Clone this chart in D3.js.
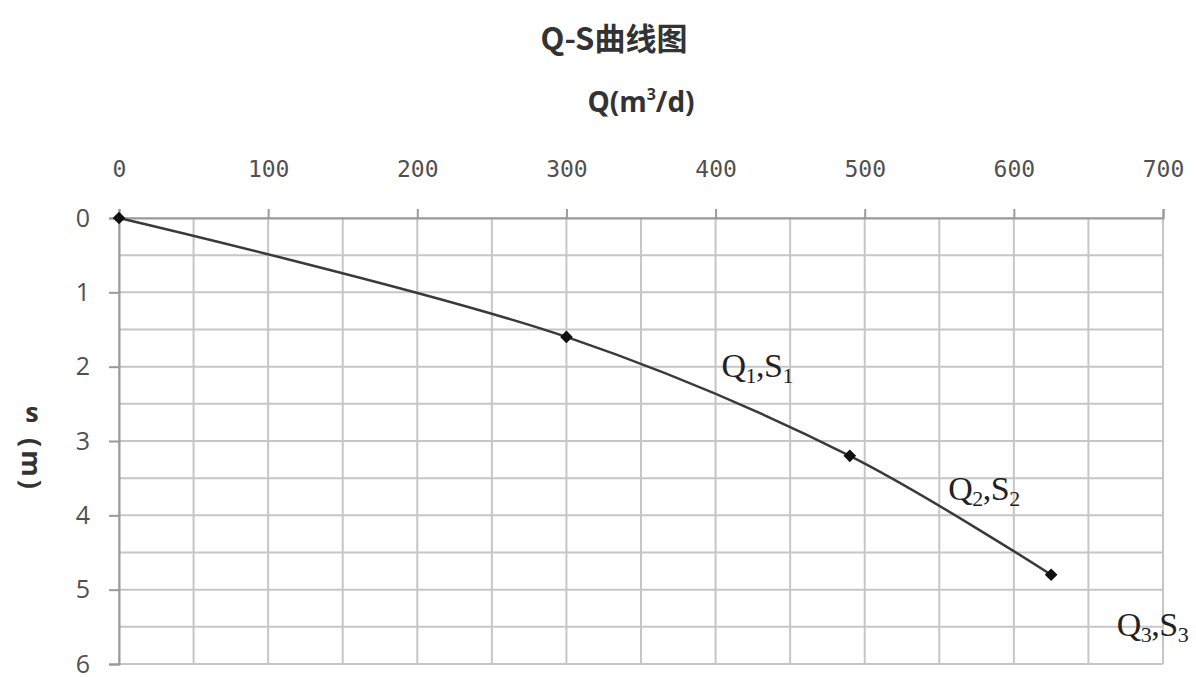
<!DOCTYPE html>
<html>
<head>
<meta charset="utf-8">
<script src="https://cdn.jsdelivr.net/npm/d3@7"></script>
<style>
  html, body { margin: 0; padding: 0; background: #fff; }
  svg { display: block; }
</style>
</head>
<body>
<svg id="chart" width="1196" height="677"></svg>
<script>
// Pumping test: discharge Q (m³/d) vs drawdown s (m)
const discharge = [0, 300, 490, 625];
const drawdown  = [0, 1.6, 3.2, 4.8];
const pointLabels = [
  { q: "1", s: "1" },
  { q: "2", s: "2" },
  { q: "3", s: "3" }
];
// label anchors in data units (Q, s)
const labelQ = [404, 556, 669];
const labelS = [2.14, 3.8, 5.62];
const xTicks = [0, 100, 200, 300, 400, 500, 600, 700];
const yTicks = [0, 1, 2, 3, 4, 5, 6];
const xGrid = d3.range(0, 701, 50);
const yGrid = d3.range(0, 6.01, 0.5);

const svg = d3.select("#chart");
const m = { left: 119, right: 1163, top: 218, bottom: 664 };

const x = d3.scaleLinear().domain([0, 700]).range([m.left, m.right]);
const y = d3.scaleLinear().domain([0, 6]).range([m.top, m.bottom]);

// Gridlines
const grid = svg.append("g").attr("stroke", "#c6c6c6").attr("stroke-width", 2);
grid.selectAll("line.v").data(xGrid).join("line")
  .attr("x1", d => x(d)).attr("x2", d => x(d))
  .attr("y1", m.top).attr("y2", m.bottom);
grid.selectAll("line.h").data(yGrid).join("line")
  .attr("x1", m.left).attr("x2", m.right)
  .attr("y1", d => y(d)).attr("y2", d => y(d));

// Top axis (Q)
const xAxis = svg.append("g")
  .attr("transform", `translate(0,${m.top})`)
  .call(d3.axisTop(x).tickValues(xTicks).tickSize(9).tickPadding(32).tickFormat(d3.format("d")));
xAxis.select(".domain").attr("stroke", "#9a9a9a").attr("stroke-width", 2);
xAxis.selectAll(".tick line").attr("stroke", "#9a9a9a").attr("stroke-width", 2);
xAxis.selectAll(".tick text")
  .attr("font-family", "'DejaVu Sans Mono', monospace")
  .attr("font-size", 23).attr("fill", "#505050");

// Left axis (s)
const yAxis = svg.append("g")
  .attr("transform", `translate(${m.left},0)`)
  .call(d3.axisLeft(y).tickValues(yTicks).tickSize(10).tickPadding(19).tickFormat(d3.format("d")));
yAxis.select(".domain").attr("stroke", "#9a9a9a").attr("stroke-width", 2);
yAxis.selectAll(".tick line").attr("stroke", "#9a9a9a").attr("stroke-width", 2);
yAxis.selectAll(".tick text")
  .attr("font-family", "'Open Sans', Lato, sans-serif")
  .attr("font-size", 25).attr("fill", "#505050");

// Smoothed Q-s curve
const pts = discharge.map((q, i) => [q, drawdown[i]]);
const line = d3.line()
  .x(d => x(d[0])).y(d => y(d[1]))
  .curve(d3.curveCatmullRom.alpha(0.5));
svg.append("path").datum(pts)
  .attr("d", line)
  .attr("fill", "none")
  .attr("stroke", "#3a3a3a")
  .attr("stroke-width", 2.5);

// Diamond markers
svg.selectAll("path.mk").data(pts).join("path")
  .attr("class", "mk")
  .attr("d", d3.symbol().type(d3.symbolSquare).size(80))
  .attr("transform", d => `translate(${x(d[0])},${y(d[1])}) rotate(45)`)
  .attr("fill", "#111");

// Point annotations Qn,Sn
pointLabels.forEach((lb, i) => {
  const t = svg.append("text")
    .attr("x", x(labelQ[i]))
    .attr("y", y(labelS[i]))
    .attr("font-family", "'Liberation Serif', 'DejaVu Serif', serif")
    .attr("font-size", 34)
    .attr("letter-spacing", -0.5)
    .attr("fill", "#222");
  t.append("tspan").text("Q");
  t.append("tspan").attr("font-size", 22).attr("dy", 6).text(lb.q);
  t.append("tspan").attr("dy", -6).text(",S");
  t.append("tspan").attr("font-size", 22).attr("dy", 6).text(lb.s);
});

// Title and axis titles
svg.append("text")
  .attr("x", 614).attr("y", 50)
  .attr("text-anchor", "middle")
  .attr("font-family", "'Noto Sans CJK SC', sans-serif")
  .attr("font-weight", "bold").attr("font-size", 31).attr("fill", "#333")
  .text("Q-S曲线图");

const qt = svg.append("text")
  .attr("x", 641).attr("y", 112)
  .attr("text-anchor", "middle")
  .attr("font-family", "'Open Sans', 'Noto Sans', sans-serif")
  .attr("font-weight", "bold").attr("font-size", 28).attr("fill", "#333");
qt.append("tspan").text("Q(m");
qt.append("tspan").attr("font-size", 16).attr("dy", -12).text("3");
qt.append("tspan").attr("dy", 12).text("/d)");

// Vertical s(m) label: "s" upright, "(m)" turned
const yl = svg.append("g").attr("fill", "#333")
  .attr("font-family", "'Open Sans', 'Noto Sans', sans-serif")
  .attr("font-weight", "bold").attr("font-size", 27);
yl.append("text").attr("x", 32).attr("y", 422).attr("text-anchor", "middle").text("s");
yl.append("text")
  .attr("transform", "translate(22,465) rotate(90)")
  .attr("text-anchor", "middle")
  .attr("letter-spacing", 3)
  .text("(m)");
</script>
</body>
</html>
